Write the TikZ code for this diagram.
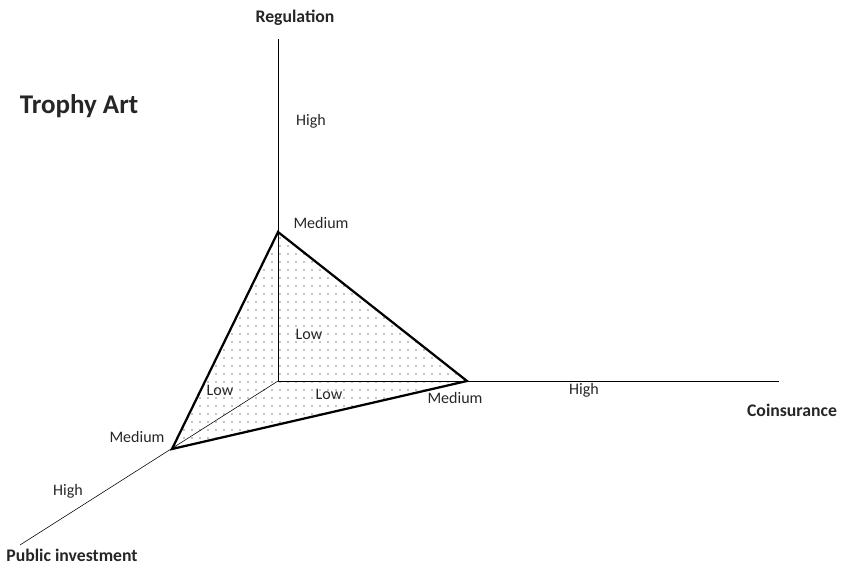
\documentclass[tikz,border=0pt]{standalone}
\usepackage{fontspec}
\setmainfont{Carlito}
\usepackage{tkz-euclide}
\usetikzlibrary{patterns.meta}

\tikzset{
  lvl/.style={font=\fontsize{11.4}{13}\selectfont, text=black!85},
  axname/.style={font=\bfseries\fontsize{12.6}{15}\selectfont, text=black!85},
  axis/.style={line width=0.7pt},
  face/.style={line width=1.6pt, line join=miter}
}

\begin{document}
\begin{tikzpicture}
\useasboundingbox (-6.95,-4.625) rectangle (14.075,9.525);
\tkzDefPoints{0/0/O, 0/8.55/Y, 12.525/0/X, -6.45/-4.1/Z}
\tkzDefPoints{0/3.725/T, 4.725/0/R, -2.65/-1.7/L}
% dotted face
\fill [pattern={Dots[distance=2mm, radius=0.5pt]}, pattern color=black] (T) -- (R) -- (L) -- cycle;
% axes
\draw [axis] (O) -- (Y);
\draw [axis] (O) -- (X);
\draw [line width=0.4pt] (O) -- (Z);
\draw [face] (T) -- (R) -- (L) -- cycle;
% labels
\node (title) at (-4.975,6.875) [font=\bfseries\fontsize{19.2}{23}\selectfont, text=black!85] {Trophy Art};
\node (reg) at (0.425,9.075) [axname] {Regulation};
\node (coins) at (12.85,-0.725) [axname] {Coinsurance};
\node (pub) at (-5.15,-4.36) [axname] {Public investment};
\node (regHigh) at (0.825,6.5) [lvl] {High};
\node (regMed) at (1.075,3.95) [lvl] {Medium};
\node (regLow) at (0.775,1.175) [lvl] {Low};
\node (pubLow) at (-1.45,-0.225) [lvl] {Low};
\node (coinsLow) at (1.275,-0.325) [lvl] {Low};
\node (coinsMed) at (4.425,-0.425) [lvl] {Medium};
\node (coinsHigh) at (7.65,-0.225) [lvl] {High};
\node (pubMed) at (-3.525,-1.4) [lvl] {Medium};
\node (pubHigh) at (-5.25,-2.75) [lvl] {High};
\end{tikzpicture}
\end{document}
